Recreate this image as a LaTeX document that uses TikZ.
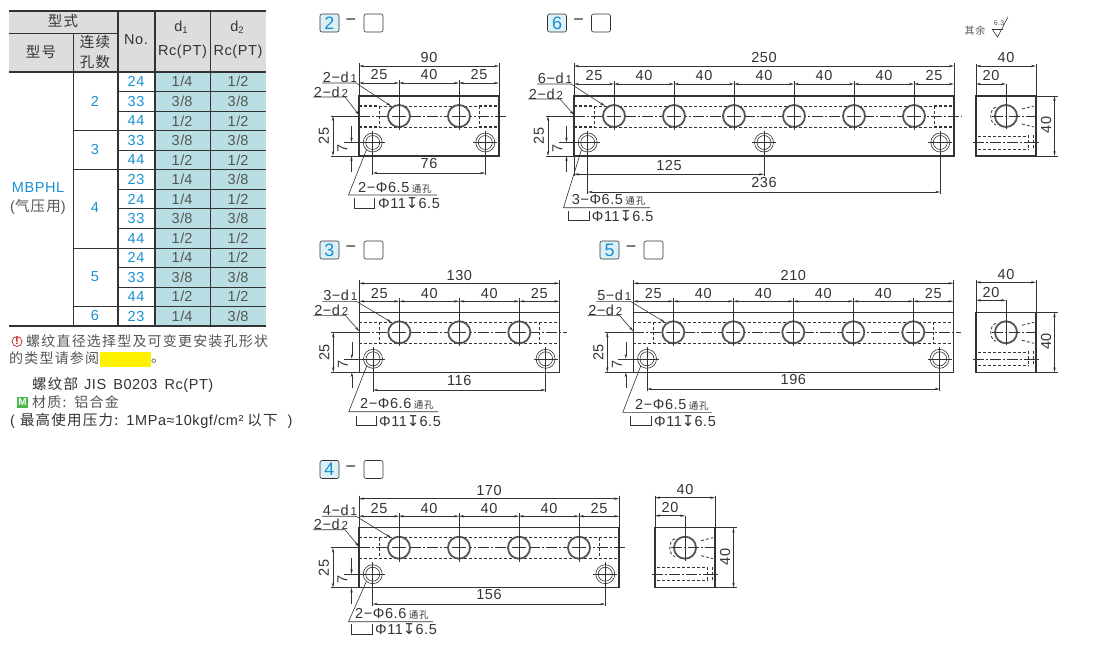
\documentclass[tikz,border=0pt]{standalone}
\usepackage{fontspec}
\setmainfont[LetterSpace=4]{Liberation Sans}
\newfontfamily\cjk[LetterSpace=8.5]{Noto Sans CJK SC}
\newfontfamily\symfont{DejaVu Sans}
\usetikzlibrary{arrows.meta}
\definecolor{ink}{HTML}{333333}
\definecolor{soft}{HTML}{555555}
\definecolor{misumi}{HTML}{1A8FD0}
\definecolor{headgray}{HTML}{DDDDDB}
\definecolor{cellblue}{HTML}{B9DFE4}
\definecolor{boxblue}{HTML}{DCF0F8}
\newcommand{\txt}{\fontsize{14.5}{14.5}\selectfont}
\newcommand{\minor}{\fontsize{10}{10}\selectfont}
\newcommand{\lowsub}[1]{\raisebox{-2.5pt}{\fontsize{9.5}{9.5}\selectfont #1}}
\tikzstyle{label}=[inner sep=0pt,text=ink,font=\txt]
\tikzstyle{left label}=[label,anchor=west]
\tikzstyle{cjk label}=[left label,text=soft,font=\fontsize{14}{14}\selectfont\cjk]
\tikzstyle{value}=[label,text=soft]
\tikzstyle{part no}=[label,text=misumi,font=\txt]
\tikzstyle{tag}=[draw=ink,line width=.6pt,rounded corners=2pt,minimum width=19pt,minimum height=18pt,inner sep=0pt,font=\fontsize{18}{18}\selectfont]
\tikzstyle{outline}=[draw=ink,line width=1.4pt]
\tikzstyle{thin}=[draw=ink,line width=.6pt]
\tikzstyle{dimline}=[thin,{Stealth[length=5pt,width=2.4pt]}-{Stealth[length=5pt,width=2.4pt]}]
\tikzstyle{arrowline}=[thin,-{Stealth[length=5pt,width=2.4pt]}]
\tikzstyle{hidden}=[draw=ink,line width=.8pt,dash pattern=on 3pt off 2pt]
\tikzstyle{hidden end}=[draw=ink,line width=1.3pt,dash pattern=on 3pt off 2pt]
\tikzstyle{center line}=[thin,dash pattern=on 11pt off 2pt on 2pt off 2pt]
\tikzstyle{big hole}=[draw=soft,fill=white,line width=1.8pt]

\begin{document}
\begin{tikzpicture}[x=1pt,y=-1pt]
    \useasboundingbox (0,0) rectangle (1100,653);

    % First we draw the table
    \fill[headgray] (9,11) rectangle (266,72);
    \fill[cellblue] (155,72) rectangle (266,326);
    \node[label] (head type) at (63,21) {\cjk 型式};
    \node[label] (head model) at (41,52) {\cjk 型号};
    \node[label] (head count a) at (95,42) {\cjk 连续};
    \node[label] (head count b) at (95,62) {\cjk 孔数};
    \node[label] (head no) at (136,40) {No.};
    \node[label] (head da) at (181,27) {d\lowsub{1}};
    \node[label] (head db) at (237,27) {d\lowsub{2}};
    \node[label] (head rca) at (182.5,52) {Rc(PT)};
    \node[label] (head rcb) at (238,52) {Rc(PT)};
    \foreach \no/\da/\db [count=\i] in {24/1\slash 4/1\slash 2, 33/3\slash 8/3\slash 8, 44/1\slash 2/1\slash 2,
        33/3\slash 8/3\slash 8, 44/1\slash 2/1\slash 2, 23/1\slash 4/3\slash 8, 24/1\slash 4/1\slash 2,
        33/3\slash 8/3\slash 8, 44/1\slash 2/1\slash 2, 24/1\slash 4/1\slash 2, 33/3\slash 8/3\slash 8,
        44/1\slash 2/1\slash 2, 23/1\slash 4/3\slash 8}
    {
        \pgfmathsetmacro{\rowy}{72+19.54*(\i-.5)}
        \pgfmathsetmacro{\liney}{72+19.54*\i}
        \node[part no] (no\i) at (136,\rowy) {\no};
        \node[value] (da\i) at (182,\rowy) {\da};
        \node[value] (db\i) at (238,\rowy) {\db};
        \path[thin] (118,\liney) -- (266,\liney);
    }
    \foreach \pos/\name in {{(95,101)/2}, {(95,150)/3}, {(95,208)/4}, {(95,277)/5}, {(95,316)/6}}
        \node[part no] (count\name) at \pos {\name};
    \foreach \liney in {130.6,169.7,247.9,306.5}
        \path[thin] (73,\liney) -- (118,\liney);
    \node[part no] (series) at (38,188) {MBPHL};
    \node[value] (series note) at (38,207) {(\cjk 气压用\normalfont)};

    % Table rules
    \path[thin] (9,33) -- (118,33);
    \path[thin] (73,33) -- (73,326);
    \path[thin] (210,11) -- (210,326);
    \foreach \liney in {11,72,326}
        \path[draw=ink,line width=1.4pt] (9,\liney) -- (266,\liney);
    \foreach \rulex in {118,155}
        \path[draw=ink,line width=1.6pt] (\rulex,11) -- (\rulex,326);

    % Notes under the table
    \node[circle,draw=red!75!black,line width=.6pt,minimum size=10pt,inner sep=0pt,text=red!75!black,font=\minor\bfseries] (warn) at (17,341.5) {!};
    \node[cjk label] (note one) at (26,341.5) {螺纹直径选择型及可变更安装孔形状};
    \node[cjk label] (note two) at (9,358) {的类型请参阅};
    \fill[yellow] (100,351.7) rectangle (151,367.3);
    \node[cjk label] (note end) at (151,361) {。};
    \node[left label] (note thread) at (32,385) {{\cjk 螺纹部}\hspace{6pt}JIS\hspace{7pt}B0203\hspace{7pt}Rc(PT)};
    \node[fill=green!60!black!70,text=white,minimum size=10.5pt,inner sep=0pt,font=\minor\bfseries] (mark) at (22.5,402.5) {M};
    \node[cjk label] (note metal) at (32,402) {材质{:}\hspace{8pt}铝合金};
    \node[left label] (note press) at (10,420.5) {(\hspace{5pt}{\cjk 最高使用压力{:}}\hspace{8pt}1MPa≈10kgf/cm²\hspace{4pt}{\cjk 以下}\hspace{10pt})};

    % Titles with their two boxes
    \foreach \name/\lft/\tp/\val in {a/320/14/2, b/547.5/14/6, c/320/241/3, d/600/241/5, e/320/460.5/4}
    {
        \node[tag,fill=boxblue,text=misumi] (\name num) at (\lft+9.5,\tp+9) {\val};
        \node[label,font=\fontsize{18}{18}\selectfont] (\name sep) at (\lft+31,\tp+8.5) {−};
        \node[tag] (\name opt) at (\lft+53.5,\tp+9) {};
    }

    % Finish mark
    \node[label,text=soft,font=\minor\cjk] (finish) at (975,30.5) {其余};
    \node[label,text=soft,font=\fontsize{7}{7}\selectfont] (finish val) at (999,23.5) {6.3};
    \draw[thin] (992,29) -- (1003,29);
    \draw[thin] (992,29) -- (997.5,37) -- (1008,17);

    % Draw the front views
    \foreach \name/\lft/\rgt/\tp/\cnt/\ttl/\ovr/\row in {a/359/499/96/2/90/-30/-13, b/574/954/96/6/250/-30/-12,
        c/359.3/559.3/312.3/3/130/-29/-11, d/633.3/953.3/312.3/5/210/-29/-11, e/359/619/527.7/4/170/-29/-11.5}
    {
        % Bores, drawn under the holes
        \foreach \liney in {10,31}
        {
            \path[hidden] (\lft+20,\tp+\liney) -- (\rgt-20,\tp+\liney);
            \path[hidden end] (\lft,\tp+\liney) -- (\lft+20,\tp+\liney);
            \path[hidden end] (\rgt-20,\tp+\liney) -- (\rgt,\tp+\liney);
        }
        \path[hidden] (\lft+20,\tp+10) -- (\lft+20,\tp+31);
        \path[hidden] (\rgt-20,\tp+10) -- (\rgt-20,\tp+31);
        \path[center line] (\lft,\tp+20) -- (\rgt+8,\tp+20);
        \path[outline] (\lft,\tp) rectangle (\rgt,\tp+60);

        % Overall dimension
        \path[thin] (\lft,\tp+\ovr-3) -- (\lft,\tp);
        \path[thin] (\rgt,\tp+\ovr-3) -- (\rgt,\tp);
        \path[dimline] (\lft,\tp+\ovr) -- (\rgt,\tp+\ovr);
        \node[label] (\name total) at ({(\lft+\rgt)/2},\tp+\ovr-8) {\ttl};

        % Holes and the chain of dimensions above them
        \path[dimline] (\lft,\tp+\row) -- (\lft+40,\tp+\row);
        \path[dimline] (\rgt-40,\tp+\row) -- (\rgt,\tp+\row);
        \node[label] (\name first) at (\lft+20,\tp+\row-8) {25};
        \node[label] (\name last) at (\rgt-20,\tp+\row-8) {25};
        \foreach \i in {1,...,\cnt}
        {
            \pgfmathsetmacro{\hx}{\lft+40+60*(\i-1)}
            \node[circle,big hole,minimum size=22pt,inner sep=0pt] (\name hole\i) at (\hx,\tp+20) {};
            \path[thin] (\hx,\tp+\row-3) -- (\hx,\tp+34);
            \path[thin] (\hx-7,\tp+20) -- (\hx+7,\tp+20);
        }
        \foreach \i in {2,...,\cnt}
        {
            \pgfmathsetmacro{\hx}{\lft+40+60*(\i-2)}
            \path[dimline] (\hx,\tp+\row) -- (\hx+60,\tp+\row);
            \node[label] (\name pitch\i) at (\hx+30,\tp+\row-8) {40};
        }

        % Height dimensions on the left
        \path[thin] (\lft-28,\tp+20) -- (\lft,\tp+20);
        \path[thin] (\lft-28,\tp+60) -- (\lft,\tp+60);
        \path[dimline] (\lft-26,\tp+20) -- (\lft-26,\tp+60);
        \node[label,rotate=90] (\name height) at (\lft-35,\tp+40) {25};
        \path[thin] (\lft-15,\tp+46.5) -- (\lft+13.7,\tp+46.5);
        \path[arrowline] (\lft-7.5,\tp+30) -- (\lft-7.5,\tp+46.5);
        \path[arrowline] (\lft-7.5,\tp+76) -- (\lft-7.5,\tp+60);
        \node[label,rotate=90] (\name seven) at (\lft-16.5,\tp+52) {7};
    }

    % Mounting holes
    \foreach \name/\hx/\hy in {a1/372.7/142.5, a2/485.3/142.5, b1/587.7/142.5, b2/764/142.5, b3/940.3/142.5,
        c1/373/358.8, c2/545.6/358.8, d1/647/358.8, d2/939.6/358.8, e1/372.7/574.2, e2/605.3/574.2}
    {
        \node[circle,thin,fill=white,minimum size=19pt,inner sep=0pt] (mount \name) at (\hx,\hy) {};
        \node[circle,thin,minimum size=14pt,inner sep=0pt] (bore \name) at (\hx,\hy) {};
        \path[thin] (\hx-12,\hy) -- (\hx+12,\hy);
        \path[thin] (\hx,\hy-12) -- (\hx,\hy+12);
    }

    % Dimensions under the views
    \foreach \name/\xa/\xb/\from/\dimy/\ltxt in {a/372.7/485.3/142.5/173/76, b/587.7/940.3/142.5/192/236,
        c/373/545.6/358.8/390/116, d/647/939.6/358.8/389/196, e/372.7/605.3/574.2/604/156}
    {
        \path[thin] (\xa,\from) -- (\xa,\dimy+2);
        \path[thin] (\xb,\from) -- (\xb,\dimy+2);
        \path[dimline] (\xa,\dimy) -- (\xb,\dimy);
        \node[label] (\name span) at ({(\xa+\xb)/2},\dimy-9) {\ltxt};
    }
    \path[thin] (574,156) -- (574,176);
    \path[thin] (764,142.5) -- (764,176);
    \path[dimline] (574,174.3) -- (764,174.3);
    \node[label] (b half) at (669,165.5) {125};

    % Leaders for the ports
    \foreach \name/\lft/\tp/\va/\ya/\yb/\tipx in {a/359/96/2/-13/1/391, b/574/96/6/-12/3/605, c/359.3/312.3/3/-11/3/391.5,
        d/633.3/312.3/5/-11/3/665, e/359/527.7/4/-11.5/2/391}
    {
        \node[label] (\name da text) at (\lft-19,\tp+\ya-6) {\va−d{\fontsize{11.5}{11.5}\selectfont\,1}};
        \node[label] (\name db text) at (\lft-28,\tp+\yb-5) {2−d{\fontsize{11.5}{11.5}\selectfont\,2}};
        \path[arrowline] (\lft-37,\tp+\ya) -- (\lft-3,\tp+\ya) -- (\tipx,\tp+10);
        \path[arrowline] (\lft-46,\tp+\yb) -- (\lft-14,\tp+\yb) -- (\lft,\tp+19);
    }

    % Leaders for the mounting holes
    \foreach \name/\lft/\tp/\cy/\tx/\ex/\ux/\vx/\vy/\size/\qty in {a/359/96/195/358/437/354/378/203/6.5/2, b/574/96/207.7/571.7/650/568.3/591.7/215.7/6.5/3,
        c/359.3/312.3/411.7/360/438/356/379/420.7/6.6/2, d/633.3/312.3/412.3/635/711.7/630.7/654/420.7/6.5/2,
        e/359/527.7/621.7/355/433/351.7/375/629.3/6.6/2}
    {
        \coordinate (\name bend) at (\lft-10.5,\cy);
        \coordinate (\name stop) at (\ex,\cy);
        \draw[thin] (\lft+7.5,\tp+53.5) -- (\name bend) -- (\name stop);
        \node[left label,anchor=base west] (\name thru) at (\tx,\cy-3) {\qty−Φ\size\,{\cjk\fontsize{9.5}{9.5}\selectfont 通孔}};
        \node[left label] (\name depth) at (\vx,\vy) {Φ11{\symfont\fontsize{15}{15}\selectfont ↧}6.5};
        \draw[thin] (\ux,\vy-5) -- (\ux,\vy+5) -- (\ux+20.5,\vy+5) -- (\ux+20.5,\vy-5);
    }

    % Draw the side views
    \foreach \name/\lft/\tp in {f/976/96, g/976/312.3, h/655/527.7}
    {
        \path[outline,fill=white] (\lft,\tp) rectangle (\lft+60,\tp+60);
        % Lower bore
        \path[hidden] (\lft+2,\tp+40) -- (\lft+53,\tp+40);
        \path[hidden] (\lft+2,\tp+53) -- (\lft+53,\tp+53);
        \path[center line] (\lft-3,\tp+46.5) -- (\lft+63,\tp+46.5);
        \path[hidden] (\lft+52,\tp+39) -- (\lft+52,\tp+54);
        \path[hidden] (\lft+57,\tp+39) -- (\lft+57,\tp+54);
        % Upper port
        \path[hidden] (\lft+46,\tp+13) -- (\lft+58,\tp+10);
        \path[hidden] (\lft+46,\tp+28) -- (\lft+58,\tp+31);
        \draw[hidden] (\lft+20,\tp+11) .. controls (\lft+13,\tp+13) and (\lft+13,\tp+27) .. (\lft+20,\tp+29);
        \node[circle,big hole,minimum size=22pt,inner sep=0pt] (\name bore) at (\lft+30,\tp+20) {};
        \path[center line] (\lft+16,\tp+20) -- (\lft+63,\tp+20);
        \path[thin] (\lft+30,\tp-12) -- (\lft+30,\tp+33);
        % Dimensions
        \path[thin] (\lft,\tp-32) -- (\lft,\tp);
        \path[thin] (\lft+60,\tp-32) -- (\lft+60,\tp);
        \path[dimline] (\lft,\tp-30) -- (\lft+60,\tp-30);
        \path[dimline] (\lft,\tp-12) -- (\lft+30,\tp-12);
        \node[label] (\name width) at (\lft+30,\tp-38) {40};
        \node[label] (\name half) at (\lft+15,\tp-20) {20};
        \path[thin] (\lft+60,\tp) -- (\lft+82,\tp);
        \path[thin] (\lft+60,\tp+60) -- (\lft+82,\tp+60);
        \path[dimline] (\lft+78.5,\tp) -- (\lft+78.5,\tp+60);
        \node[label,rotate=90] (\name height) at (\lft+70,\tp+29) {40};
    }
\end{tikzpicture}
\end{document}
